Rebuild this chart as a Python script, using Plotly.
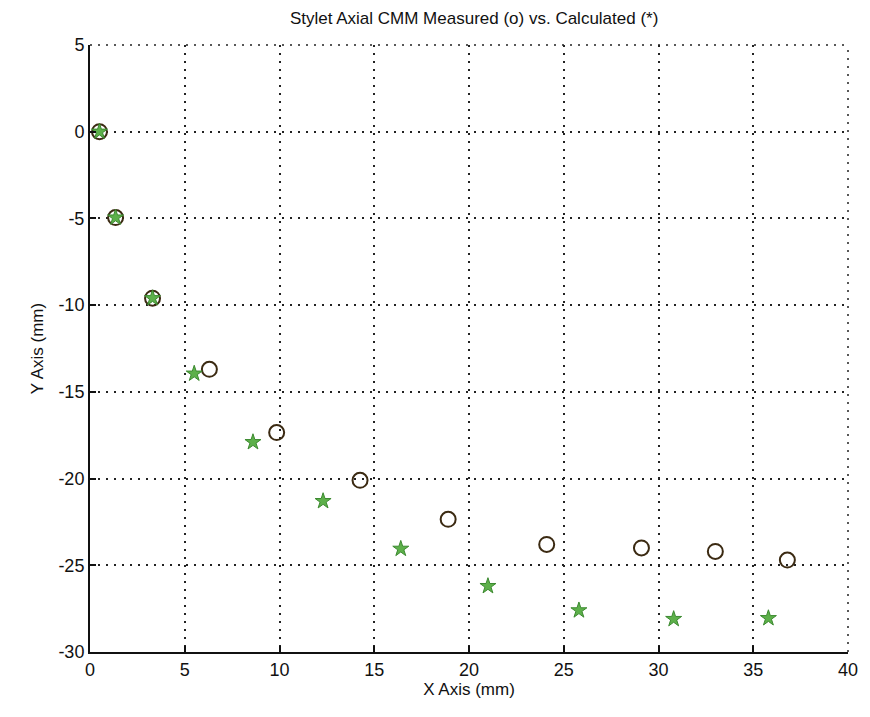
import plotly.graph_objects as go

# Measured (o)
meas_x = [0.5, 1.35, 3.3, 6.3, 9.85, 14.25, 18.9, 24.1, 29.1, 33.0, 36.8]
meas_y = [0.0, -4.95, -9.6, -13.7, -17.35, -20.1, -22.35, -23.8, -24.0, -24.2, -24.7]
# Calculated (*)
calc_x = [0.5, 1.35, 3.3, 5.5, 8.6, 12.3, 16.4, 21.0, 25.8, 30.8, 35.8]
calc_y = [0.0, -4.95, -9.6, -13.95, -17.9, -21.3, -24.05, -26.2, -27.6, -28.1, -28.05]

x_ticks = [0, 5, 10, 15, 20, 25, 30, 35, 40]
y_ticks = [5, 0, -5, -10, -15, -20, -25, -30]

FONT = "Liberation Sans, Arial, sans-serif"
DASH = "2px,6px"

fig = go.Figure()
fig.add_trace(go.Scatter(
    x=meas_x, y=meas_y, mode="markers", name="Measured",
    marker=dict(symbol="circle-open", size=15, color="#3b2a12",
                line=dict(width=2, color="#3b2a12")),
))
fig.add_trace(go.Scatter(
    x=calc_x, y=calc_y, mode="markers", name="Calculated",
    marker=dict(symbol="star", size=12, color="#5db04a",
                line=dict(width=1, color="#3c8a30")),
))

grid_style = dict(showgrid=True, gridcolor="#222222", gridwidth=1.5, griddash=DASH)
axis_font = dict(family=FONT, size=18, color="#111111")

# dotted grid lines on the top and right edges (MATLAB-style)
fig.add_shape(type="line", xref="paper", yref="paper", x0=0, x1=1, y0=1, y1=1,
              line=dict(color="#222222", width=1.5, dash=DASH))
fig.add_shape(type="line", xref="paper", yref="paper", x0=1, x1=1, y0=0, y1=1,
              line=dict(color="#222222", width=1.5, dash=DASH))

fig.update_layout(
    width=870, height=717,
    margin=dict(l=90, r=13, t=45, b=65),
    paper_bgcolor="white", plot_bgcolor="white",
    showlegend=False,
    title=dict(text="Stylet Axial CMM Measured (o) vs. Calculated (*)",
               x=0.545, xanchor="center", y=0.975, yanchor="middle",
               font=dict(family=FONT, size=17, color="#111111")),
    font=dict(family=FONT, color="#111111"),
)
fig.update_xaxes(
    range=[0, 40], tickvals=x_ticks, ticktext=[str(v) for v in x_ticks],
    showline=True, linecolor="#111111", linewidth=2, mirror=False,
    ticks="inside", ticklen=6, tickwidth=1.5, tickcolor="#111111",
    tickfont=axis_font, zeroline=False,
    title=dict(text="X Axis (mm)", font=dict(size=17, family=FONT), standoff=4),
    **grid_style,
)
fig.update_yaxes(
    range=[-30, 5], tickvals=y_ticks, ticktext=[str(v) for v in y_ticks],
    showline=True, linecolor="#111111", linewidth=2, mirror=False,
    ticks="inside", ticklen=6, tickwidth=1.5, tickcolor="#111111",
    tickfont=axis_font, zeroline=False,
    title=dict(text="Y Axis (mm)", font=dict(size=17, family=FONT), standoff=10),
    **grid_style,
)

fig.write_html("out.html")
